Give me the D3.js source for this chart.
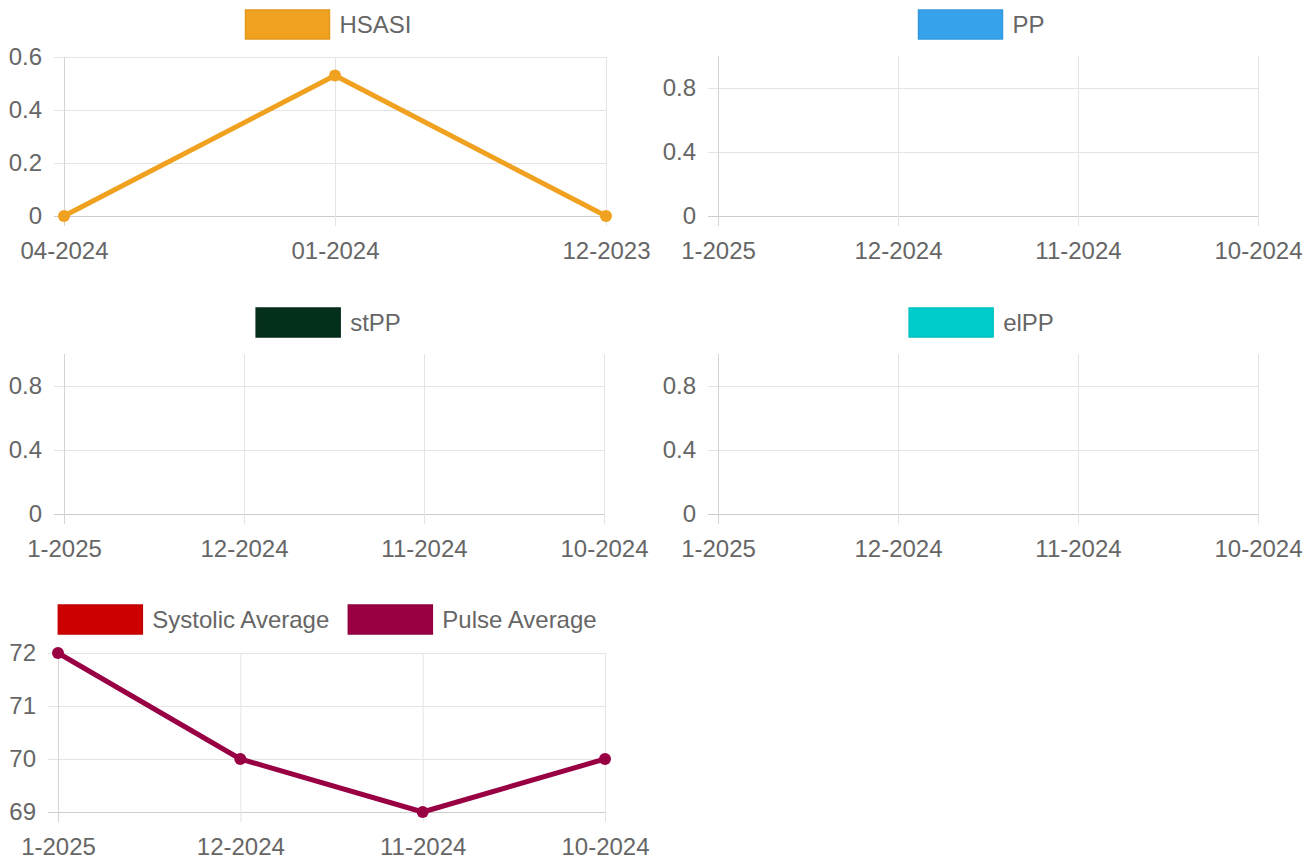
<!DOCTYPE html>
<html>
<head>
<meta charset="utf-8">
<script src="https://cdn.jsdelivr.net/npm/d3@7"></script>
<style>
  html, body { margin: 0; padding: 0; background: #fff; }
  svg text { font-family: "Liberation Sans", Arial, sans-serif; fill: #666; }
</style>
</head>
<body>
<svg id="chart" width="1312" height="862"></svg>
<script>
// data
const hsasiMonths = ["04-2024", "01-2024", "12-2023"]
const hsasiValues = [0, 0.53, 0]
const hsasiTicks = [0, 0.2, 0.4, 0.6]

const recentMonths = ["1-2025", "12-2024", "11-2024", "10-2024"]
const emptyTicks = [0, 0.4, 0.8]
const ppValues = [null, null, null, null]
const stppValues = [null, null, null, null]
const elppValues = [null, null, null, null]

const systolicValues = [null, null, null, null]
const pulseValues = [72, 70, 69, 70]
const pulseTicks = [69, 70, 71, 72]

const svg = d3.select("#chart")
const fontSize = 24

// one panel = legend + grid + axes + lines
const drawPanel = (p) => {
  const g = svg.append("g")
  const w = p.right - p.left, h = p.bottom - p.top

  const x = d3.scalePoint().domain(p.labels).range([p.left, p.right])
  const y = d3.scaleLinear().domain(p.domain).range([p.bottom, p.top])

  // horizontal grid + y labels
  const ya = g.append("g")
    .attr("transform", `translate(${p.left - 10},0)`)
    .call(d3.axisLeft(y).tickValues(p.ticks).tickSize(-(w + 10)).tickPadding(12).tickFormat(d3.format("~g")))
  ya.select(".domain").remove()
  ya.selectAll("line").attr("stroke", d => d === p.domain[0] ? "#cccccc" : "#e4e4e4")
  ya.selectAll("text").style("font-size", fontSize + "px").attr("fill", "#666")

  // vertical grid + x labels
  const xa = g.append("g")
    .attr("transform", `translate(0,${p.top})`)
    .call(d3.axisBottom(x).tickSize(h + 10).tickPadding(16))
  xa.select(".domain").remove()
  xa.selectAll("line").attr("stroke", (d, i) => i === 0 ? "#d4d4d4" : "#e4e4e4")
  xa.selectAll("text").style("font-size", fontSize + "px").attr("fill", "#666")

  // series
  p.series.forEach(s => {
    const pts = p.labels.map((l, i) => ({ l, v: s.values[i] })).filter(d => d.v != null)
    if (!pts.length) return
    g.append("path")
      .datum(pts)
      .attr("fill", "none")
      .attr("stroke", s.color)
      .attr("stroke-width", 5)
      .attr("stroke-linejoin", "round")
      .attr("d", d3.line().x(d => x(d.l)).y(d => y(d.v)))
    g.selectAll(null)
      .data(pts)
      .enter()
      .append("circle")
      .attr("cx", d => x(d.l))
      .attr("cy", d => y(d.v))
      .attr("r", 6)
      .attr("fill", s.color)
  })

  // legend, centred over the panel
  const lg = g.append("g")
  let cx = 0
  p.series.forEach((s, i) => {
    const item = lg.append("g").attr("transform", `translate(${cx},0)`)
    item.append("rect")
      .attr("x", 1).attr("y", 1).attr("width", 84).attr("height", 29)
      .attr("fill", s.color)
      .attr("stroke", d3.color(s.color).darker(0.15)).attr("stroke-width", 1.5)
    const t = item.append("text")
      .attr("x", 95).attr("y", 15.5)
      .attr("dominant-baseline", "central")
      .style("font-size", fontSize + "px")
      .text(s.name)
    cx += 95 + t.node().getComputedTextLength() + 18
  })
  const total = cx - 18
  lg.attr("transform", `translate(${p.legendCx - total / 2},${p.legendTop})`)
}

const panels = [
  { left: 64, right: 606, top: 57, bottom: 216, legendCx: 328, legendTop: 9,
    labels: hsasiMonths, domain: [0, 0.6], ticks: hsasiTicks,
    series: [{ name: "HSASI", color: "#efa11f", values: hsasiValues }] },
  { left: 718, right: 1258, top: 56, bottom: 216, legendCx: 981, legendTop: 9,
    labels: recentMonths, domain: [0, 1], ticks: emptyTicks,
    series: [{ name: "PP", color: "#36a2eb", values: ppValues }] },
  { left: 64, right: 604, top: 354, bottom: 514, legendCx: 328, legendTop: 307,
    labels: recentMonths, domain: [0, 1], ticks: emptyTicks,
    series: [{ name: "stPP", color: "#04301b", values: stppValues }] },
  { left: 718, right: 1258, top: 354, bottom: 514, legendCx: 981, legendTop: 307,
    labels: recentMonths, domain: [0, 1], ticks: emptyTicks,
    series: [{ name: "elPP", color: "#00cccc", values: elppValues }] },
  { left: 58, right: 605, top: 653, bottom: 812, legendCx: 327, legendTop: 604,
    labels: recentMonths, domain: [69, 72], ticks: pulseTicks,
    series: [
      { name: "Systolic Average", color: "#cc0000", values: systolicValues },
      { name: "Pulse Average", color: "#990044", values: pulseValues }
    ] }
]

panels.forEach(drawPanel)
</script>
</body>
</html>
